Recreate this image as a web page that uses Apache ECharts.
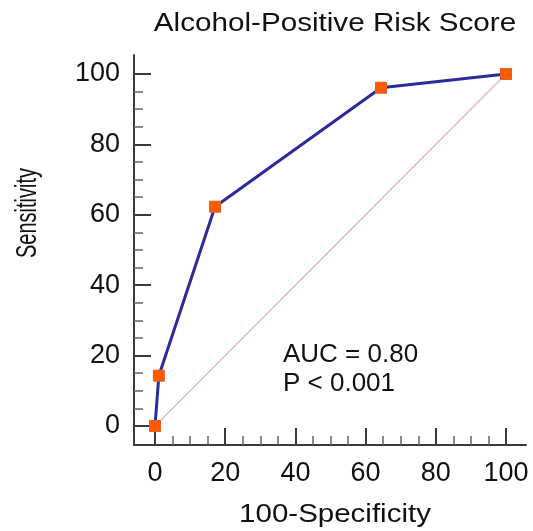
<!DOCTYPE html>
<html>
<head>
<meta charset="utf-8">
<script src="https://cdn.jsdelivr.net/npm/echarts@6/dist/echarts.min.js"></script>
<style>html,body{margin:0;padding:0;background:#fff;}#chart{width:533px;height:531px;}</style>
</head>
<body>
<div id="chart"></div>
<script>
// ROC points (100-Specificity, Sensitivity)
var specificityComplement = [0, 1.1, 17.1, 64.4, 100];
var sensitivity = [0, 14.3, 62.3, 96.1, 100];
var diagonalX = [0, 100];
var diagonalY = [0, 100];
var tickValues = [0, 20, 40, 60, 80, 100];
var titleText = 'Alcohol-Positive Risk Score';
var xName = '100-Specificity';
var yName = 'Sensitivity';
var annotation = ['AUC = 0.80', 'P < 0.001'];

var FONT = '"Liberation Sans", Arial, sans-serif';
var chart = echarts.init(document.getElementById('chart'));

function pairs(xs, ys) { return xs.map(function (x, i) { return [x, ys[i]]; }); }

function tickAxis(gridIndex, margin) {
  return {
    gridIndex: gridIndex,
    type: 'value', min: tickValues[0], max: tickValues[tickValues.length - 1],
    interval: tickValues[1] - tickValues[0],
    axisLine: { show: false },
    axisTick: { show: true, inside: true, length: 17, lineStyle: { color: '#3a3a3a', width: 2 } },
    minorTick: { show: true, splitNumber: 4, length: 9, lineStyle: { color: '#666', width: 1.5 } },
    axisLabel: { fontSize: 27, color: '#111', fontFamily: FONT, margin: margin },
    splitLine: { show: false }, minorSplitLine: { show: false }
  };
}
function hiddenAxis(gridIndex) {
  return {
    gridIndex: gridIndex, type: 'value', min: tickValues[0], max: tickValues[tickValues.length - 1],
    show: false, splitLine: { show: false }
  };
}
function lineAxis(gridIndex) {
  return {
    gridIndex: gridIndex, type: 'value', min: 0, max: 1,
    axisLine: { show: true, lineStyle: { color: '#3a3a3a', width: 2 } },
    axisTick: { show: false }, axisLabel: { show: false }, splitLine: { show: false }
  };
}

chart.setOption({
  backgroundColor: '#fff',
  animation: false,
  grid: [
    { left: 134, right: 7, top: 55, bottom: 86 },   // 0: axis lines
    { left: 155, right: 27, top: 74, bottom: 105 }, // 1: data
    { left: 155, right: 27, top: 74, bottom: 86 },  // 2: x ticks on axis line
    { left: 134, right: 27, top: 74, bottom: 105 }  // 3: y ticks on axis line
  ],
  xAxis: [
    lineAxis(0),
    hiddenAxis(1),
    tickAxis(2, 15),
    hiddenAxis(3)
  ],
  yAxis: [
    lineAxis(0),
    hiddenAxis(1),
    hiddenAxis(2),
    tickAxis(3, 14)
  ],
  graphic: [
    { type: 'text', x: 335, y: 24, scaleX: 1.14, style: { text: titleText, fontSize: 26, fontFamily: FONT, fill: '#111', textAlign: 'center', textVerticalAlign: 'middle' } },
    { type: 'text', x: 335, y: 515, scaleX: 1.18, style: { text: xName, fontSize: 25, fontFamily: FONT, fill: '#111', textAlign: 'center', textVerticalAlign: 'middle' } },
    { type: 'text', x: 28, y: 213, rotation: Math.PI / 2, scaleY: 1.5, style: { text: yName, fontSize: 20, fontFamily: FONT, fill: '#111', textAlign: 'center', textVerticalAlign: 'middle' } },
    { type: 'text', x: 283, y: 355, style: { text: annotation[0], fontSize: 26, fontFamily: FONT, fill: '#111', textAlign: 'left', textVerticalAlign: 'middle' } },
    { type: 'text', x: 283, y: 384, style: { text: annotation[1], fontSize: 26, fontFamily: FONT, fill: '#111', textAlign: 'left', textVerticalAlign: 'middle' } }
  ],
  series: [
    {
      type: 'line', xAxisIndex: 1, yAxisIndex: 1, clip: false, z: 1,
      data: pairs(diagonalX, diagonalY), showSymbol: false, symbol: 'none',
      lineStyle: { color: '#e2b4b4', width: 1.2 }
    },
    {
      type: 'line', xAxisIndex: 1, yAxisIndex: 1, clip: false, z: 2,
      data: pairs(specificityComplement, sensitivity),
      symbol: 'rect', symbolSize: 11, showAllSymbol: true,
      lineStyle: { color: '#2b2b9c', width: 3 },
      itemStyle: { color: '#ff5a00', borderColor: '#e0602a', borderWidth: 1 }
    }
  ]
});
</script>
</body>
</html>
